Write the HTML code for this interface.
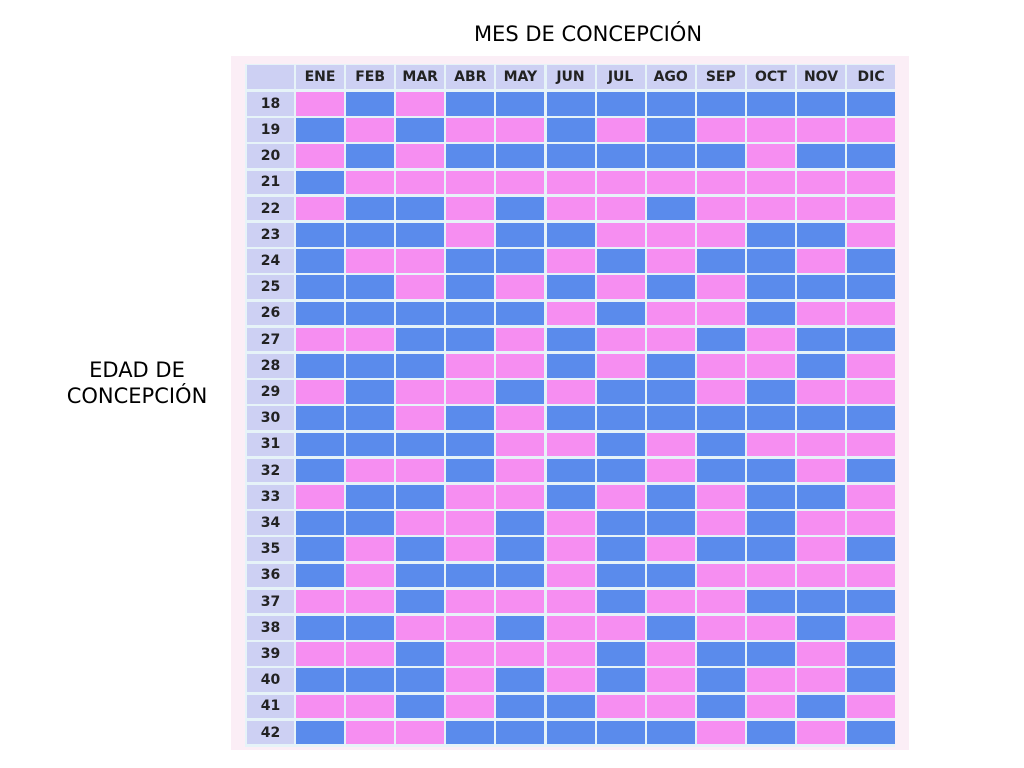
<!DOCTYPE html>
<html><head><meta charset="utf-8">
<style>
body{margin:0;width:1024px;height:768px;background:#fff;position:relative;overflow:hidden;font-family:"DejaVu Sans","Liberation Sans",sans-serif}
.t{position:absolute;color:#000;font-size:21px;text-align:center}
#tbl{position:absolute;left:231px;top:56px;width:678px;height:694px;background:#fbeef6}
.c{position:absolute}
.h{font-family:"DejaVu Sans","Liberation Sans",sans-serif;font-weight:bold;font-size:14px;color:#222;display:flex;align-items:center;justify-content:center}
</style></head><body>
<div class="t" style="left:388px;top:22px;width:400px">MES DE CONCEPCIÓN</div>
<div class="t" style="left:37px;top:357px;width:200px;line-height:26px">EDAD DE<br>CONCEPCIÓN</div>
<div id="tbl"></div>
<script>
var rows=["PBPBBBBBBBBB","BPBPPBPBPPPP","PBPBBBBBBPBB","BPPPPPPPPPPP","PBBPBPPBPPPP","BBBPBBPPPBBP","BPPBBPBPBBPB","BBPBPBPBPBBB","BBBBBPBPPBPP","PPBBPBPPBPBB","BBBPPBPBPPBP","PBPPBPBBPBPP","BBPBPBBBBBBB","BBBBPPBPBPPP","BPPBPBBPBBPB","PBBPPBPBPBBP","BBPPBPBBPBPP","BPBPBPBPBBPB","BPBBBPBBPPPP","PPBPPPBPPBBB","BBPPBPPBPPBP","PPBPPPBPBBPB","BBBPBPBPBPPB","PPBPBBPPBPBP","BPPBBBBBPBPB"];
var m=["ENE","FEB","MAR","ABR","MAY","JUN","JUL","AGO","SEP","OCT","NOV","DIC"];
var T=document.getElementById("tbl"),ox=231,oy=56,h="";
function cell(x,y,w,hh,bg,txt,cls){h+='<div class="c '+(cls||'')+'" style="left:'+(x-ox)+'px;top:'+(y-oy)+'px;width:'+w+'px;height:'+hh+'px;background:'+bg+'">'+(txt||'')+'</div>';}
h+='<div class="c" style="left:'+(245-ox)+'px;top:'+(64-oy)+'px;width:650px;height:683px;background:#e6f3f8"></div>';
cell(247,65,47,24,"#cdd0f3");
for(var j=0;j<12;j++){cell(296+j*50.1,65,48,24,"#cdd0f3",m[j],"h");}
for(var i=0;i<25;i++){var y=92+i*26.2;
 cell(247,y,47,23.5,"#cdd0f3",(18+i),"h");
 for(var j=0;j<12;j++){cell(296+j*50.1,y,48,23.5,rows[i][j]=="B"?"#5a8bec":"#f68ef1");}
}
T.innerHTML=h;
</script>
</body></html>
